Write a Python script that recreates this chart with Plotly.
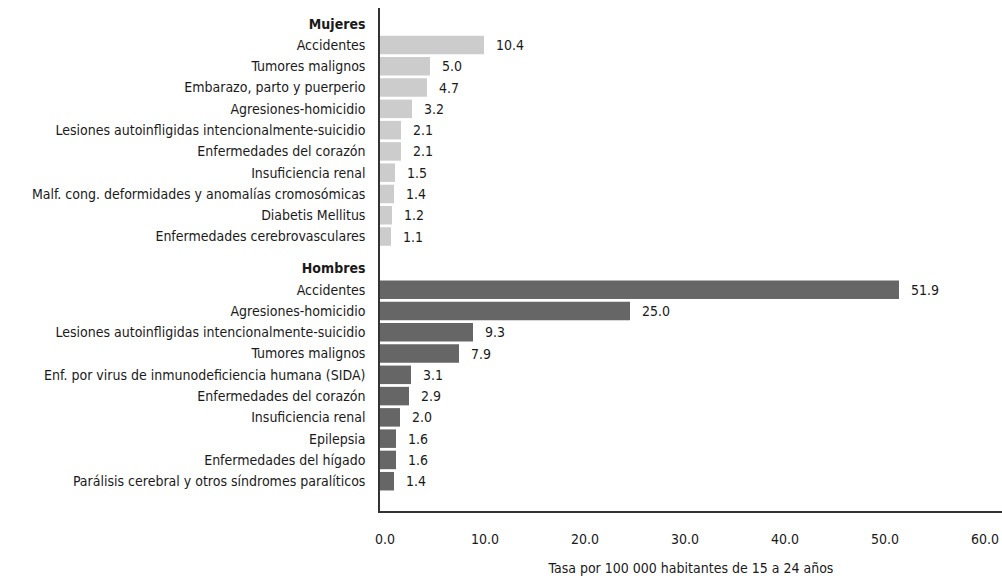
import plotly.graph_objects as go

mujeres_causas = ["Accidentes", "Tumores malignos", "Embarazo, parto y puerperio",
                  "Agresiones-homicidio", "Lesiones autoinfligidas intencionalmente-suicidio",
                  "Enfermedades del corazón", "Insuficiencia renal",
                  "Malf. cong. deformidades y anomalías cromosómicas", "Diabetis Mellitus",
                  "Enfermedades cerebrovasculares"]
mujeres_tasas = [10.4, 5.0, 4.7, 3.2, 2.1, 2.1, 1.5, 1.4, 1.2, 1.1]

hombres_causas = ["Accidentes", "Agresiones-homicidio",
                  "Lesiones autoinfligidas intencionalmente-suicidio", "Tumores malignos",
                  "Enf. por virus de inmunodeficiencia humana (SIDA)", "Enfermedades del corazón",
                  "Insuficiencia renal", "Epilepsia", "Enfermedades del hígado",
                  "Parálisis cerebral y otros síndromes paralíticos"]
hombres_tasas = [51.9, 25.0, 9.3, 7.9, 3.1, 2.9, 2.0, 1.6, 1.6, 1.4]

x_ticks = [0, 10, 20, 30, 40, 50, 60]
x_title = "Tasa por 100 000 habitantes de 15 a 24 años"

FONT = "Liberation Sans Narrow, Arial Narrow, DejaVu Sans Condensed, sans-serif"
TXT = "#1a1a1a"

pos_m = [1 + i for i in range(len(mujeres_tasas))]
pos_h = [12.5 + i for i in range(len(hombres_tasas))]

fig = go.Figure()
fig.add_trace(go.Bar(x=mujeres_tasas, y=pos_m, orientation="h", width=0.87,
                     marker=dict(color="#cccccc", line=dict(width=0)),
                     hoverinfo="x"))
fig.add_trace(go.Bar(x=hombres_tasas, y=pos_h, orientation="h", width=0.87,
                     marker=dict(color="#666666", line=dict(width=0)),
                     hoverinfo="x"))

for p, v in list(zip(pos_m, mujeres_tasas)) + list(zip(pos_h, hombres_tasas)):
    fig.add_annotation(x=v, y=p, text=f"{v:.1f}", showarrow=False,
                       xanchor="left", yanchor="middle", xshift=10,
                       font=dict(family=FONT, size=14, color=TXT))

tickvals = [0] + pos_m + [11.5] + pos_h
ticktext = ["<b>Mujeres</b>"] + mujeres_causas + ["<b>Hombres</b>"] + hombres_causas

fig.update_layout(
    width=1002, height=581,
    margin=dict(l=380, r=0, t=8, b=70, autoexpand=False),
    paper_bgcolor="white", plot_bgcolor="white",
    showlegend=False,
    font=dict(family=FONT, size=14, color=TXT),
    xaxis=dict(range=[0, 62.2], tickvals=x_ticks,
               ticktext=[f"{t:.1f}" for t in x_ticks],
               showgrid=False, zeroline=False, showline=True,
               linecolor="#333333", linewidth=1.5, ticks="",
               automargin=False,
               ticklabelstandoff=14, ticklabelshift=5,
               tickfont=dict(family=FONT, size=14, color=TXT),
               title=dict(text=x_title, standoff=18,
                          font=dict(family=FONT, size=14, color=TXT))),
    yaxis=dict(range=[22.9, -0.74], tickvals=tickvals, ticktext=ticktext,
               showgrid=False, zeroline=False, showline=True,
               linecolor="#333333", linewidth=1.5, ticks="",
               automargin=False,
               ticklabelstandoff=10,
               tickfont=dict(family=FONT, size=14, color=TXT)),
)

fig.write_html("out.html", config={"displayModeBar": False},
               post_script="document.body.style.margin='0';document.body.style.overflow='hidden';")
